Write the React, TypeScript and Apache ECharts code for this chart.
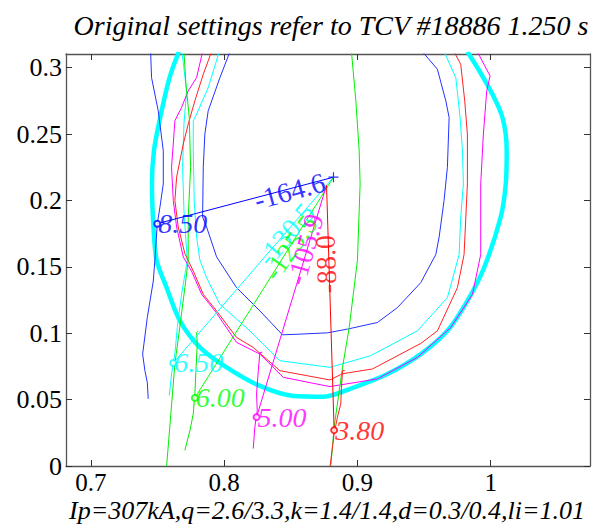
import React, { useEffect, useRef } from 'react';
import * as echarts from 'echarts';

const xTicks = [0.7, 0.8, 0.9, 1.0];
const yTicks = [0, 0.05, 0.1, 0.15, 0.2, 0.25, 0.3];
const xRange = [0.6813, 1.0745];
const yRange = [0, 0.3103];

const titleText = 'Original settings refer to TCV #18886 1.250 s';
const xLabelText = 'Ip=307kA,q=2.6/3.3,k=1.4/1.4,d=0.3/0.4,li=1.01';

// thick cyan boundary
const lcfs = [
  [0.766, 0.312], [0.759, 0.2925], [0.752, 0.2625], [0.7473, 0.2375], [0.7458, 0.2125],
  [0.7468, 0.1825], [0.7493, 0.155], [0.7568, 0.1343], [0.7668, 0.1093], [0.7818, 0.0893],
  [0.8018, 0.0743], [0.8268, 0.0603], [0.8518, 0.0528], [0.8745, 0.0522], [0.8975, 0.0593],
  [0.9225, 0.0693], [0.9475, 0.0843], [0.9675, 0.1018], [0.9825, 0.1243], [0.995, 0.1493],
  [1.0075, 0.1875], [1.0113, 0.2125], [1.012, 0.2375], [1.0088, 0.2625], [1.0, 0.2825],
  [0.99, 0.3], [0.9825, 0.312],
];

const blueOuter = [
  [0.7448, 0.312], [0.7455, 0.2925], [0.7505, 0.2675], [0.7543, 0.2375], [0.7543, 0.2125],
  [0.7518, 0.195], [0.7498, 0.1825], [0.748, 0.155], [0.7468, 0.1393], [0.7423, 0.1118],
  [0.7388, 0.0843], [0.7405, 0.0718], [0.7423, 0.0631], [0.743, 0.0506],
];

const blueInner = [
  [0.8043, 0.312], [0.7968, 0.2925], [0.788, 0.2675], [0.7855, 0.25], [0.7843, 0.225],
  [0.7838, 0.1875], [0.7868, 0.18], [0.7943, 0.1575], [0.8093, 0.1343], [0.8268, 0.1168],
  [0.8438, 0.0988], [0.8568, 0.0993], [0.8775, 0.1003], [0.8925, 0.1031], [0.915, 0.1081],
  [0.93, 0.1193], [0.9475, 0.1381], [0.9588, 0.1593], [0.9613, 0.1725], [0.965, 0.2],
  [0.9675, 0.225], [0.9688, 0.2625], [0.9663, 0.275], [0.96, 0.2988], [0.9488, 0.312],
];

const cyanInner = [
  [0.7963, 0.312], [0.788, 0.285], [0.7793, 0.265], [0.7768, 0.26], [0.7768, 0.2375],
  [0.7775, 0.2], [0.7793, 0.1725], [0.7818, 0.155], [0.7868, 0.1418], [0.7968, 0.1218],
  [0.8193, 0.1018], [0.8418, 0.0793], [0.8793, 0.0743], [0.91, 0.0831], [0.945, 0.1018],
  [0.9675, 0.1268], [0.9763, 0.1593], [0.9775, 0.1875], [0.9795, 0.2125], [0.9788, 0.2375],
  [0.977, 0.2625], [0.9738, 0.2925], [0.965, 0.312],
];

const cyanOuter = [
  [0.7683, 0.312], [0.7718, 0.2825], [0.7698, 0.2575], [0.7688, 0.225], [0.7698, 0.1925],
  [0.7723, 0.155], [0.768, 0.1293], [0.7648, 0.1043], [0.763, 0.0843], [0.7605, 0.0693],
  [0.7588, 0.0531],
];

const redContour = [
  [0.7905, 0.312], [0.7843, 0.295], [0.778, 0.275], [0.773, 0.2575], [0.7693, 0.2425],
  [0.7643, 0.2175], [0.763, 0.2], [0.7655, 0.18], [0.7705, 0.16], [0.7768, 0.1468],
  [0.7843, 0.1293], [0.7943, 0.1168], [0.8093, 0.0968], [0.8218, 0.0893], [0.8418, 0.0718],
  [0.8793, 0.0648], [0.8888, 0.0695], [0.9113, 0.0731], [0.9475, 0.0923], [0.96, 0.1018],
  [0.975, 0.1343], [0.98, 0.1593], [0.9825, 0.2125], [0.9825, 0.25], [0.9805, 0.275],
  [0.9775, 0.3025], [0.9725, 0.312],
];

const magentaContour = [
  [0.7838, 0.312], [0.7793, 0.2925], [0.773, 0.2825], [0.768, 0.27], [0.763, 0.26],
  [0.7618, 0.2425], [0.7605, 0.225], [0.7618, 0.2], [0.7643, 0.18], [0.7693, 0.1575],
  [0.7755, 0.1468], [0.7831, 0.1293], [0.7931, 0.1168], [0.8093, 0.0931], [0.8268, 0.0843],
  [0.8443, 0.0668], [0.8793, 0.0598], [0.915, 0.0656], [0.945, 0.0818], [0.97, 0.1043],
  [0.9863, 0.1293], [0.9925, 0.1593], [0.9925, 0.2125], [0.9945, 0.25], [0.997, 0.2825],
  [0.9995, 0.2938], [0.99, 0.312],
];

const greenLeft = [
  [0.7698, 0.312], [0.7713, 0.2875], [0.7738, 0.2625], [0.7748, 0.225], [0.773, 0.1875],
  [0.773, 0.155], [0.7705, 0.1343], [0.7673, 0.1093], [0.763, 0.0768], [0.7568, 0.0],
];

const greenRight = [
  [0.8955, 0.312], [0.8988, 0.275], [0.9013, 0.2375], [0.902, 0.2125], [0.9, 0.155],
  [0.8938, 0.1043], [0.8888, 0.0743], [0.8825, 0.0293], [0.88, 0.0],
];

const greenLeg = [
  [0.7805, 0.1015], [0.7793, 0.1006], [0.7798, 0.0918], [0.7788, 0.0718], [0.778, 0.0543],
  [0.7768, 0.0393], [0.7743, 0.0268], [0.7705, 0.0118],
];
const magentaLeg = [
  [0.8285, 0.0856], [0.8268, 0.0856], [0.8256, 0.0718], [0.8243, 0.0543], [0.8248, 0.0418],
  [0.823, 0.0293], [0.8218, 0.0131],
];
const redLeg = [
  [0.8905, 0.0718], [0.8888, 0.0718], [0.888, 0.0593], [0.8875, 0.0468], [0.885, 0.0368],
  [0.8825, 0.0243], [0.8795, 0.0],
];

// rays from axis to end points
const axisCross = [0.882, 0.2175];
const rayOrigin = [0.8768, 0.2115];
const rayStarts = [axisCross, axisCross, axisCross, rayOrigin, rayOrigin];
const rayEnds = [[0.7498, 0.1825], [0.7618, 0.0776], [0.778, 0.0513], [0.8243, 0.0368], [0.8825, 0.027]];
const endLabels = ['8.50', '6.50', '6.00', '5.00', '3.80'];
const angleLabels = ['-164.6', '-130.5', '-125.5', '-105.9', '-88.0'];
const angleLabelAt = [[0.849, 0.207], [0.8461, 0.1744], [0.8495, 0.1646], [0.8607, 0.1631], [0.8765, 0.152]];
const rayColors = ['#0000ff', '#00ffff', '#00ff00', '#ff00ff', '#ff0000'];

const SERIF = 'Liberation Serif, Times New Roman, serif';

export default function App() {
  const ref = useRef<HTMLDivElement>(null);
  useEffect(() => {
    if (!ref.current) return;
    const chart = echarts.init(ref.current, undefined, { renderer: 'svg' });

    const thin = (data: number[][], color: string, z = 2) => ({
      type: 'line',
      data,
      showSymbol: false,
      symbol: 'none',
      lineStyle: { color, width: 1 },
      z,
      silent: true,
    });

    const series: any[] = [
      {
        type: 'line', data: lcfs, showSymbol: false, symbol: 'none', smooth: 0.3,
        lineStyle: { color: '#00ffff', width: 4.5 }, z: 1, silent: true,
      },
      thin(blueOuter, '#2233ff'),
      thin(blueInner, '#2233ff'),
      thin(cyanInner, '#00ffff'),
      thin(cyanOuter, '#00ffff'),
      thin(redContour, '#ff2222'),
      thin(magentaContour, '#ff00ff'),
      thin(greenLeft, '#00ee00'),
      thin(greenRight, '#00ee00'),
      thin(greenLeg, '#00ee00'),
      thin(magentaLeg, '#ff00ff'),
      thin(redLeg, '#ff2222'),
    ];

    rayEnds.forEach((end, i) => {
      series.push(thin([rayStarts[i], end], rayColors[i], 3));
      series.push({
        type: 'scatter',
        data: [{ value: end, label: { formatter: endLabels[i] } }],
        symbol: 'emptyCircle',
        symbolSize: 6,
        itemStyle: { color: rayColors[i], borderColor: rayColors[i], borderWidth: 1 },
        label: {
          show: true, position: 'right', distance: -3,
          color: rayColors[i], fontFamily: SERIF, fontStyle: 'italic', fontSize: 28,
        },
        z: 4, silent: true,
      });
      series.push({
        type: 'scatter',
        data: [{ value: angleLabelAt[i], label: { formatter: angleLabels[i] } }],
        symbolSize: 0,
        label: {
          show: true, position: 'inside', rotate: parseFloat(angleLabels[i]) + 180,
          color: rayColors[i], fontFamily: SERIF, fontSize: 28,
        },
        z: 5, silent: true,
      });
    });

    series.push({
      type: 'scatter',
      data: [axisCross],
      symbol: 'path://M4.4,0H5.6V4.4H10V5.6H5.6V10H4.4V5.6H0V4.4H4.4Z',
      symbolSize: 10,
      itemStyle: { color: '#0000ff' },
      z: 6, silent: true,
    });

    const axisLine = { show: true, onZero: false, lineStyle: { color: '#555', width: 1.3 } };
    const tickStyle = { color: '#333', width: 1 };
    const labelStyle = { fontFamily: SERIF, fontSize: 25, color: '#000' };
    const fmt = (v: number) => String(parseFloat(Number(v).toFixed(2)));

    chart.setOption({
      animation: false,
      backgroundColor: '#fff',
      title: {
        text: titleText,
        left: 326,
        top: 6,
        textAlign: 'center',
        textStyle: { fontFamily: SERIF, fontStyle: 'italic', fontWeight: 'normal', fontSize: 28, color: '#000' },
      },
      graphic: [
        {
          type: 'text',
          x: 327,
          y: 510.5,
          style: {
            text: xLabelText,
            align: 'center',
            verticalAlign: 'middle',
            fontFamily: SERIF,
            fontStyle: 'italic',
            fontSize: 26,
            fill: '#000',
          },
          silent: true,
        },
      ],
      grid: { left: 66, right: 19, top: 54, bottom: 58, containLabel: false, outerBoundsMode: 'none' },
      xAxis: [
        {
          type: 'value', min: xRange[0], max: xRange[1], position: 'bottom',
          axisLine,
          axisTick: { show: true, inside: true, length: 6, customValues: xTicks, lineStyle: tickStyle },
          axisLabel: { show: true, customValues: xTicks, formatter: fmt, margin: 4, ...labelStyle },
          splitLine: { show: false },
        },
        {
          type: 'value', min: xRange[0], max: xRange[1], position: 'top',
          axisLine,
          axisTick: { show: true, inside: true, length: 6, customValues: xTicks, lineStyle: tickStyle },
          axisLabel: { show: false },
          splitLine: { show: false },
        },
      ],
      yAxis: [
        {
          type: 'value', min: yRange[0], max: yRange[1], position: 'left',
          axisLine,
          axisTick: { show: true, inside: true, length: 6, customValues: yTicks, lineStyle: tickStyle },
          axisLabel: { show: true, customValues: yTicks, formatter: fmt, margin: 4, fontFamily: SERIF, fontSize: 26, color: '#000' },
          splitLine: { show: false },
        },
        {
          type: 'value', min: yRange[0], max: yRange[1], position: 'right',
          axisLine,
          axisTick: { show: true, inside: true, length: 6, customValues: yTicks, lineStyle: tickStyle },
          axisLabel: { show: false },
          splitLine: { show: false },
        },
      ],
      series,
    });
    return () => chart.dispose();
  }, []);
  return <div ref={ref} style={{ position: 'fixed', left: 0, top: 0, width: 609, height: 524 }} />;
}
